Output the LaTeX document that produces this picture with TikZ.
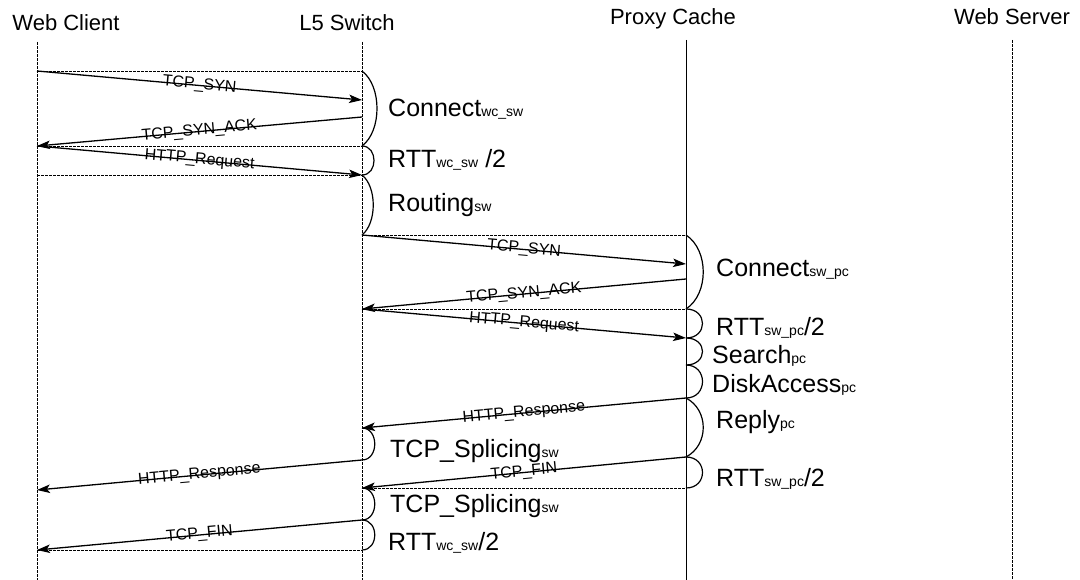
\documentclass[tikz,border=0pt]{standalone}
\usepackage{fontspec}
\setmainfont{Liberation Sans}
\usetikzlibrary{arrows.meta}

\newcommand{\lsub}[1]{{\fontsize{14}{14}\selectfont #1}}

\begin{document}
\begin{tikzpicture}[x=1pt,y=-1pt,
        lifeline/.style={line width=0.8pt,dash pattern=on 3pt off 1pt},
        solidline/.style={line width=0.9pt},
        guide/.style={line width=0.6pt,dash pattern=on 2.5pt off 1.5pt},
        msg/.style={line width=1.3pt,-{Stealth[length=13pt,width=8.5pt,inset=3pt]}},
        msglabel/.style={sloped,anchor=base,inner sep=0pt,yshift=-3.5pt,font=\fontsize{16}{16}\selectfont},
        lapse/.style={line width=1.2pt},
        hdr/.style={anchor=base,font=\fontsize{22}{22}\selectfont},
        lbl/.style={anchor=base west,inner sep=0pt,font=\fontsize{25}{25}\selectfont}]
        \useasboundingbox (0,0) rectangle (1080,580);
        % headers
        \node[hdr] (wc) at (66,31) {Web Client};
        \node[hdr] (sw) at (347,31) {L5 Switch};
        \node[hdr] (pc) at (673,25) {Proxy Cache};
        \node[hdr] (ws) at (1012,25) {Web Server};
        % lifelines
        \foreach \n/\x/\t in {wc/37/42,sw/362/42,pc/686/40,ws/1012/40} {
            \coordinate (\n-top) at (\x,\t);
            \coordinate (\n-bot) at (\x,580);
        }
        \draw[lifeline] (wc-top) -- (wc-bot);
        \draw[lifeline] (sw-top) -- (sw-bot);
        \draw[solidline] (pc-top) -- (pc-bot);
        \draw[lifeline] (ws-top) -- (ws-bot);
        % event points
        \foreach \y [count=\i] in {71,146,175,490,550}
            \coordinate (wc\i) at (37,\y);
        \foreach \y [count=\i] in {71,100,117,146,175,235,309,428,460,488,520,550}
            \coordinate (sw\i) at (362,\y);
        \foreach \y [count=\i] in {235,264,279,309,338,365,398,457,488}
            \coordinate (pc\i) at (686,\y);
        % dashed guides
        \foreach \a/\b in {wc1/sw1,wc2/sw4,wc3/sw5,sw6/pc1,sw7/pc4,sw10/pc9,wc5/sw12}
            \draw[guide] (\a) -- (\b);
        % messages
        \draw[msg] (wc1) -- node[msglabel] {TCP\_SYN} (sw2);
        \draw[msg] (sw3) -- node[msglabel] {TCP\_SYN\_ACK} (wc2);
        \draw[msg] (wc2) -- node[msglabel] {HTTP\_Request} (sw5);
        \draw[msg] (sw6) -- node[msglabel] {TCP\_SYN} (pc2);
        \draw[msg] (pc3) -- node[msglabel] {TCP\_SYN\_ACK} (sw7);
        \draw[msg] (sw7) -- node[msglabel] {HTTP\_Request} (pc5);
        \draw[msg] (pc7) -- node[msglabel] {HTTP\_Response} (sw8);
        \draw[msg] (sw9) -- node[msglabel] {HTTP\_Response} (wc4);
        \draw[msg] (pc8) -- node[msglabel] {TCP\_FIN} (sw10);
        \draw[msg] (sw11) -- node[msglabel] {TCP\_FIN} (wc5);
        % time lapses
        \foreach \a/\b/\k/\dy in {sw1/sw4/20/15,sw4/sw5/16/0,sw5/sw6/15/12,
                sw8/sw9/17/0,sw10/sw11/17/0,sw11/sw12/17/0,
                pc1/pc4/23/15,pc4/pc5/22/0,pc5/pc6/22/0,pc6/pc7/22/0,
                pc7/pc8/23/12,pc8/pc9/22/0}
            \draw[lapse] (\a) .. controls +(\k,\dy) and +(\k,-\dy) .. (\b);
        % lapse labels
        \node[lbl] (conn-wc) at (388,117) {Connect\lsub{wc\_sw}};
        \node[lbl] (rtt-wc) at (388,168) {RTT\lsub{wc\_sw} /2};
        \node[lbl] (route) at (388,212) {Routing\lsub{sw}};
        \node[lbl] (conn-pc) at (716,277) {Connect\lsub{sw\_pc}};
        \node[lbl] (rtt-pc) at (716,335) {RTT\lsub{sw\_pc}/2};
        \node[lbl] (search) at (712,363) {Search\lsub{pc}};
        \node[lbl] (disk) at (712,392) {DiskAccess\lsub{pc}};
        \node[lbl] (reply) at (716,428) {Reply\lsub{pc}};
        \node[lbl] (rtt-pc2) at (716,486) {RTT\lsub{sw\_pc}/2};
        \node[lbl] (splice1) at (390,457) {TCP\_Splicing\lsub{sw}};
        \node[lbl] (splice2) at (390,512) {TCP\_Splicing\lsub{sw}};
        \node[lbl] (rtt-wc2) at (388,550) {RTT\lsub{wc\_sw}/2};
    \end{tikzpicture}
\end{document}
